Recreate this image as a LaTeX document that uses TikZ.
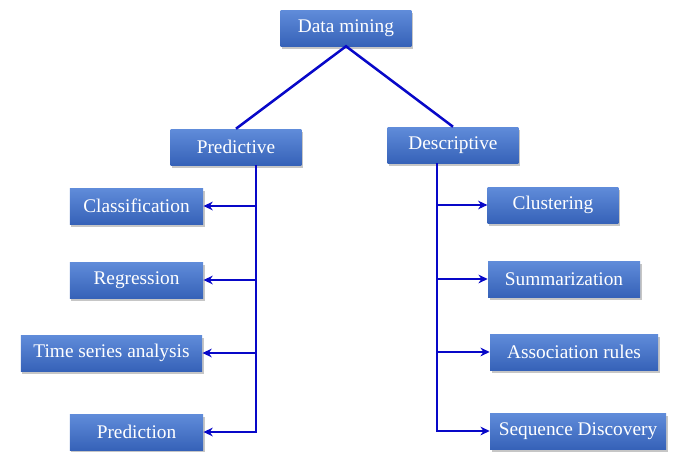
\documentclass[tikz,border=0pt]{standalone}
\usepackage{fontspec}
\setmainfont{Liberation Serif}
\usetikzlibrary{shadows,arrows.meta}
\definecolor{boxtop}{RGB}{96,140,218}
\definecolor{boxbot}{RGB}{54,98,184}
\definecolor{linkblue}{RGB}{8,8,200}
\tikzset{
  box/.style={rectangle, top color=boxtop, bottom color=boxbot, draw=none,
    text=white, font=\fontsize{14.5}{16}\selectfont, inner sep=0pt,
    minimum height=27pt,
    drop shadow={shadow xshift=1.2pt, shadow yshift=-2pt, opacity=0.45}},
  link/.style={draw=linkblue, line width=1.9pt},
  arr/.style={link, -{Stealth[length=7pt,width=6.5pt]}}
}
\begin{document}
\begin{tikzpicture}[x=0.75pt,y=-0.75pt]
\useasboundingbox (0,0) rectangle (682,451);
\node[box, minimum width=98pt] (dm) at (346,28) {Data mining};
\node[box, minimum width=98pt] (pred) at (236,147) {Predictive};
\node[box, minimum width=98pt] (desc) at (453,145) {Descriptive};
\node[box, minimum width=100pt] (cls) at (136.5,206) {Classification};
\node[box, minimum width=100pt] (reg) at (136.5,280) {Regression};
\node[box, minimum width=136pt] (tsa) at (111.5,353) {Time series analysis};
\node[box, minimum width=100pt] (prd) at (136.5,432) {Prediction};
\node[box, minimum width=98pt] (clu) at (553,205) {Clustering};
\node[box, minimum width=114pt] (sum) at (564,279) {Summarization};
\node[box, minimum width=126pt] (asr) at (574,352) {Association rules};
\node[box, minimum width=132pt] (seq) at (578,431) {Sequence Discovery};
\coordinate (ls) at (256,0);
\coordinate (rs) at (437,0);
\draw[link] (pred.north) -- (dm.south) -- (desc.north);
\draw[arr] (pred.south -| ls) |- (prd.east);
\draw[arr] (ls |- cls.east) -- (cls.east);
\draw[arr] (ls |- reg.east) -- (reg.east);
\draw[arr] (ls |- tsa.east) -- (tsa.east);
\draw[arr] (desc.south -| rs) |- (seq.west);
\draw[arr] (rs |- clu.west) -- (clu.west);
\draw[arr] (rs |- sum.west) -- (sum.west);
\draw[arr] (rs |- asr.west) -- (asr.west);
\end{tikzpicture}
\end{document}
